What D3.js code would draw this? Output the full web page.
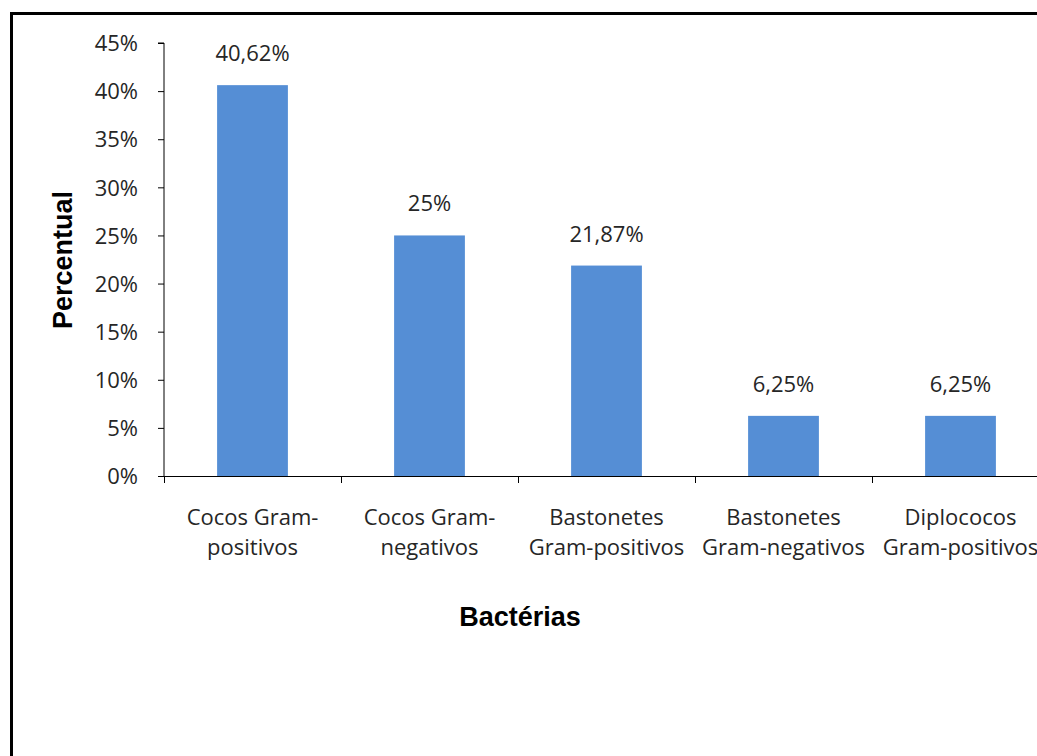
<!DOCTYPE html>
<html>
<head>
<meta charset="utf-8">
<script src="https://cdn.jsdelivr.net/npm/d3@7"></script>
<style>
  html, body { margin: 0; padding: 0; background: #fff; }
  svg { display: block; }
  .tick text, .lbl, .cat { font-family: "Open Sans", sans-serif; fill: #262626; }
  .title { font-family: "Liberation Sans", Arial, sans-serif; font-weight: bold; fill: #000; }
</style>
</head>
<body>
<svg id="chart" width="1037" height="756"></svg>
<script>
// Distribution of bacterial morphology groups (percent)
const categories = [
  ["Cocos Gram-", "positivos"],
  ["Cocos Gram-", "negativos"],
  ["Bastonetes", "Gram-positivos"],
  ["Bastonetes", "Gram-negativos"],
  ["Diplococos", "Gram-positivos"]
];
const values = [40.62, 25, 21.87, 6.25, 6.25];
const valueLabels = ["40,62%", "25%", "21,87%", "6,25%", "6,25%"];
const yTicks = [0, 5, 10, 15, 20, 25, 30, 35, 40, 45];

const svg = d3.select("#chart");
const textSize = 22;

// outer frame (extends past the right and bottom edges)
svg.append("rect")
  .attr("x", 11.5).attr("y", 13.5)
  .attr("width", 1100).attr("height", 800)
  .attr("fill", "none").attr("stroke", "#000").attr("stroke-width", 3);

const plotLeft = 164, plotTop = 43, plotBottom = 476;
const band = 177;
const x = d3.scaleBand()
  .domain(d3.range(categories.length))
  .range([plotLeft, plotLeft + band * categories.length])
  .paddingInner(0.6).paddingOuter(0.3);
const y = d3.scaleLinear().domain([0, 45]).range([plotBottom, plotTop]);

// bars
svg.append("g").selectAll("rect")
  .data(values)
  .join("rect")
  .attr("x", (d, i) => x(i))
  .attr("y", d => y(d))
  .attr("width", x.bandwidth())
  .attr("height", d => y(0) - y(d))
  .attr("fill", "#558ED5");

// value labels
svg.append("g").selectAll("text")
  .data(values)
  .join("text")
  .attr("class", "lbl")
  .attr("x", (d, i) => x(i) + x.bandwidth() / 2)
  .attr("y", d => y(d) - 24)
  .attr("text-anchor", "middle")
  .attr("font-size", textSize)
  .text((d, i) => valueLabels[i]);

// y axis
const yAxis = d3.axisLeft(y)
  .tickValues(yTicks)
  .tickFormat(d => d + "%")
  .tickSize(6)
  .tickPadding(20);
const gy = svg.append("g")
  .attr("transform", `translate(${plotLeft},0)`)
  .call(yAxis);
gy.select(".domain").attr("stroke", "#000").attr("d", `M-6,${plotTop}H0V${plotBottom}`);
gy.selectAll(".tick line").attr("stroke", "#000");
gy.selectAll(".tick text").attr("font-size", textSize).attr("dy", "0.35em");

// x axis: baseline with tick marks at category boundaries
const gx = svg.append("g");
gx.append("line")
  .attr("x1", plotLeft).attr("x2", 1037)
  .attr("y1", plotBottom + 0.5).attr("y2", plotBottom + 0.5)
  .attr("stroke", "#000");
gx.selectAll("line.tk")
  .data(d3.range(categories.length + 1))
  .join("line")
  .attr("class", "tk")
  .attr("x1", i => plotLeft + band * i + 0.5).attr("x2", i => plotLeft + band * i + 0.5)
  .attr("y1", plotBottom).attr("y2", plotBottom + 7)
  .attr("stroke", "#000");

// category labels (two lines)
const cat = svg.append("g").selectAll("text")
  .data(categories)
  .join("text")
  .attr("class", "cat")
  .attr("text-anchor", "middle")
  .attr("font-size", textSize);
cat.each(function(lines, i) {
  const cx = x(i) + x.bandwidth() / 2;
  d3.select(this).selectAll("tspan")
    .data(lines)
    .join("tspan")
    .attr("x", cx)
    .attr("y", (l, j) => 525 + j * 30)
    .text(l => l);
});

// axis titles
svg.append("text")
  .attr("class", "title")
  .attr("x", 520).attr("y", 626)
  .attr("text-anchor", "middle")
  .attr("font-size", 27)
  .text("Bactérias");

svg.append("text")
  .attr("class", "title")
  .attr("transform", "translate(72,260) rotate(-90)")
  .attr("text-anchor", "middle")
  .attr("font-size", 27)
  .text("Percentual");
</script>
</body>
</html>
